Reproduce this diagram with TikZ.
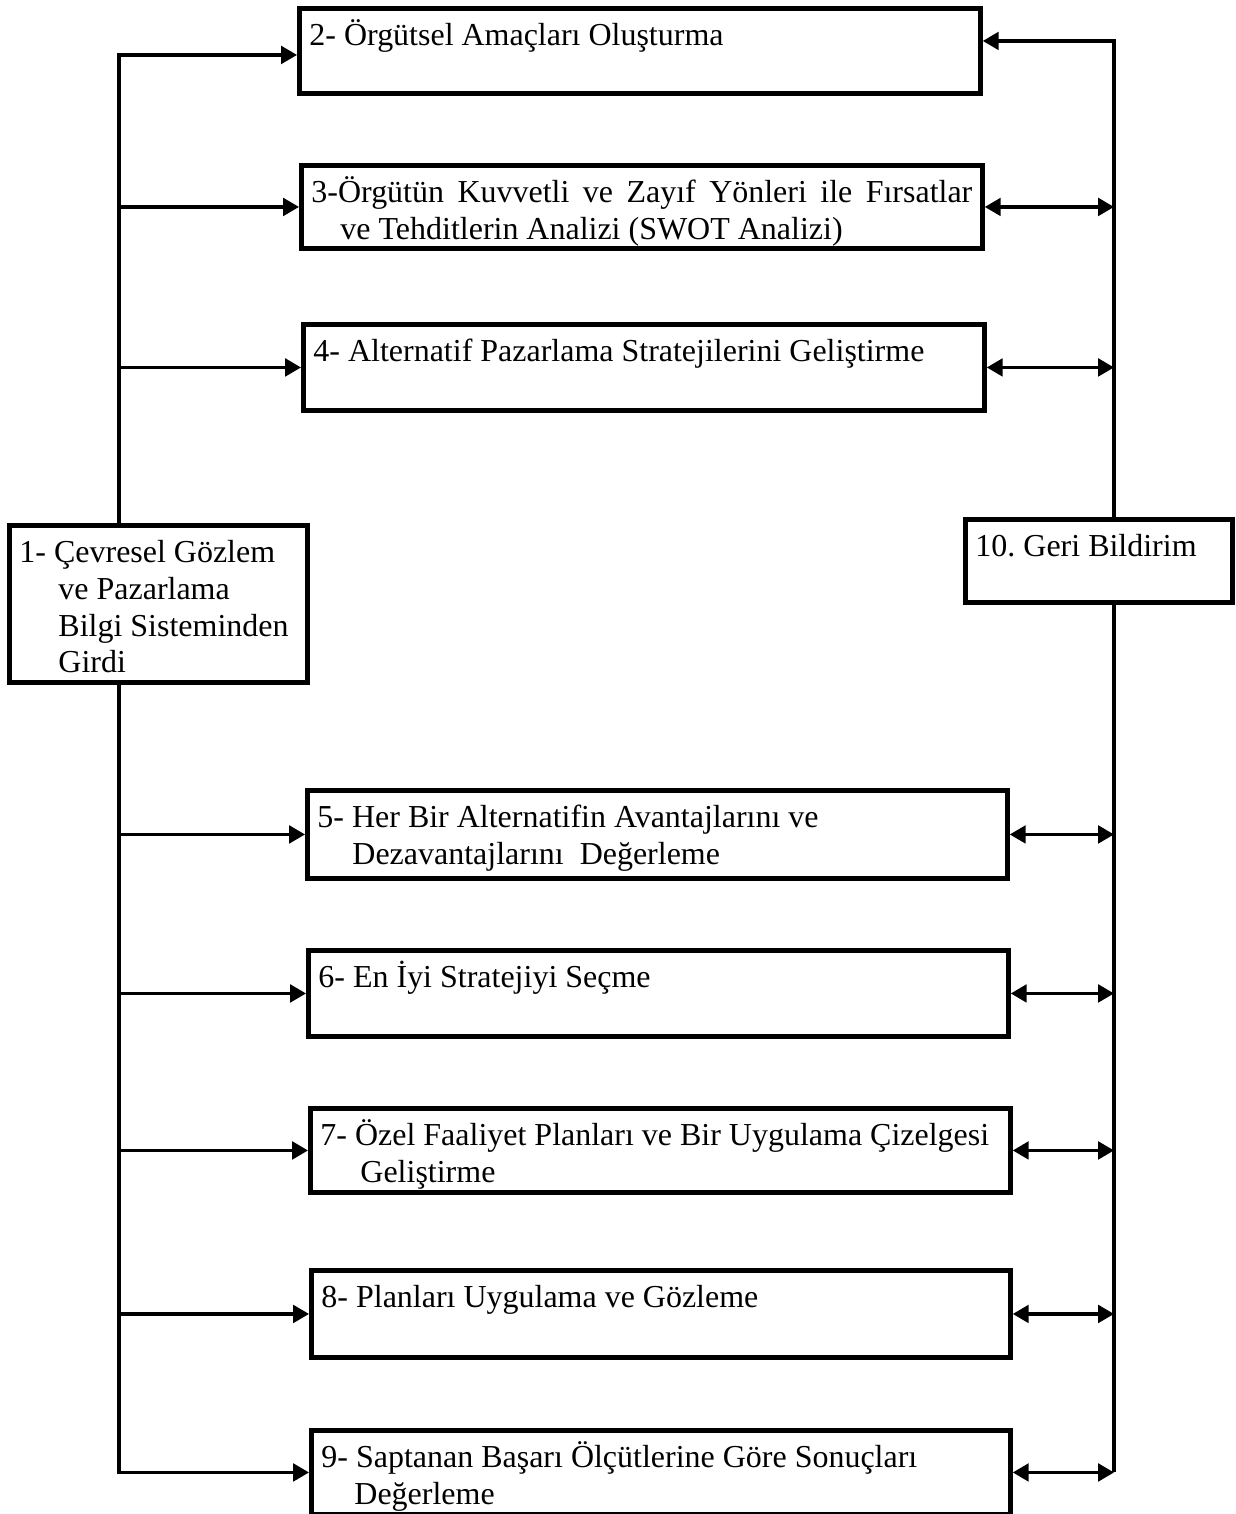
\documentclass[tikz,border=0pt]{standalone}
\usepackage{fontspec}
\setmainfont{Liberation Serif}
\usetikzlibrary{arrows.meta}
\tikzset{
  kutu/.style={draw,line width=2.8pt,anchor=north west,inner xsep=0.2cm,inner ysep=0.22cm,
    font=\fontsize{18.2}{21}\selectfont},
  cizgi/.style={line width=1.8pt},
  ok/.style={cizgi,-{Triangle[length=9pt,width=10pt]}},
  ciftok/.style={cizgi,{Triangle[length=9pt,width=10pt]}-{Triangle[length=9pt,width=10pt]}},
}
\frenchspacing
% box text: width, height, text (top aligned)
\newcommand{\icerik}[3]{\parbox[t][#2][t]{#1}{\raggedright\strut#3}}
\begin{document}
\begin{tikzpicture}[x=0.02cm,y=-0.02cm]
  \useasboundingbox (0,0) rectangle (1235,1514);
  % boxes
  \node[kutu] (B2) at (297,6) {\icerik{13.22cm}{1.26cm}{2- Örgütsel Amaçları Oluşturma}};
  \node[kutu] (B3) at (299,163) {\icerik{13.22cm}{1.22cm}{\makebox[\linewidth][s]{3-Örgütün Kuvvetli ve Zayıf Yönleri ile Fırsatlar}\\
    \hspace*{0.58cm}ve Tehditlerin Analizi (SWOT Analizi)}};
  \node[kutu] (B4) at (301,322) {\icerik{13.22cm}{1.28cm}{4- Alternatif Pazarlama Stratejilerini Geliştirme}};
  \node[kutu] (B1) at (7,523) {\icerik{5.56cm}{2.70cm}{1- Çevresel Gözlem\\
    \hspace*{0.78cm}ve Pazarlama\\ \hspace*{0.78cm}Bilgi Sisteminden\\ \hspace*{0.78cm}Girdi}};
  \node[kutu] (B10) at (963,517) {\icerik{4.94cm}{1.22cm}{10. Geri Bildirim}};
  \node[kutu] (B5) at (305,788) {\icerik{13.6cm}{1.32cm}{5- Her Bir Alternatifin Avantajlarını ve\\
    \hspace*{0.7cm}Dezavantajlarını\ \ Değerleme}};
  \node[kutu] (B6) at (306,948) {\icerik{13.6cm}{1.28cm}{6- En İyi Stratejiyi Seçme}};
  \node[kutu] (B7) at (308,1106) {\icerik{13.6cm}{1.24cm}{7- Özel Faaliyet Planları ve Bir Uygulama Çizelgesi\\
    \hspace*{0.8cm}Geliştirme}};
  \node[kutu] (B8) at (309,1268) {\icerik{13.58cm}{1.30cm}{8- Planları Uygulama ve Gözleme}};
  \node[kutu] (B9) at (309,1428) {\icerik{13.58cm}{1.24cm}{9- Saptanan Başarı Ölçütlerine Göre Sonuçları\\
    \hspace*{0.66cm}Değerleme}};
  % trunks
  \coordinate (sol) at (119,0);
  \coordinate (sag) at (1114,0);
  \draw[ok] (B1.north -| sol) |- ([yshift=-0.08cm]B2.west);
  \draw[ok] (B1.south -| sol) |- (B9.west);
  \foreach \k in {3,...,8}
    \draw[ok] (sol |- B\k.west) -- (B\k.west);
  \draw[ok] (B10.north -| sag) |- ([yshift=0.2cm]B2.east);
  \draw[cizgi] (B10.south -| sag) -- (sag |- B9.east);
  \foreach \k in {3,...,9}
    \draw[ciftok] (B\k.east) -- (sag |- B\k.east);
\end{tikzpicture}
\end{document}
